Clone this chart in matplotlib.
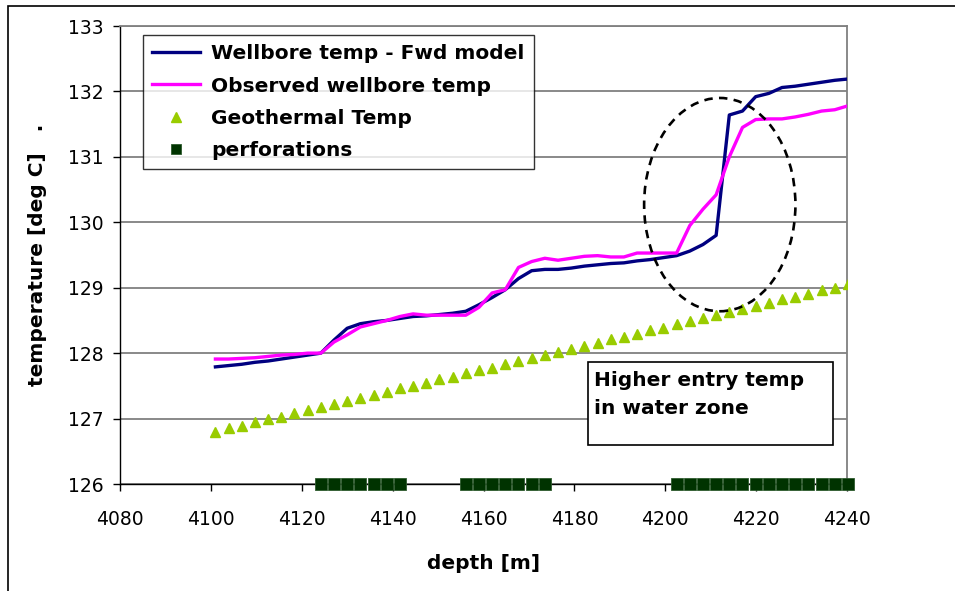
import matplotlib
matplotlib.use("Agg")
import matplotlib.pyplot as plt
from matplotlib.patches import Ellipse, Rectangle

plt.rcParams['font.family'] = ['DejaVu Sans']

# depth samples (m)
depth = [4101.0, 4103.9, 4106.8, 4109.7, 4112.6, 4115.5, 4118.4, 4121.3, 4124.2, 4127.1,
         4130.0, 4132.9, 4135.8, 4138.7, 4141.6, 4144.5, 4147.4, 4150.3, 4153.2, 4156.1,
         4159.0, 4161.9, 4164.8, 4167.7, 4170.6, 4173.5, 4176.4, 4179.3, 4182.2, 4185.1,
         4188.0, 4190.9, 4193.8, 4196.7, 4199.6, 4202.5, 4205.4, 4208.3, 4211.2, 4214.1,
         4217.0, 4219.9, 4222.8, 4225.7, 4228.6, 4231.5, 4234.4, 4237.3, 4240.2]

# forward model wellbore temperature
model_temp = [127.79, 127.81, 127.83, 127.86, 127.88, 127.91, 127.94, 127.97, 128.00, 128.20,
              128.38, 128.45, 128.48, 128.50, 128.53, 128.56, 128.57, 128.59, 128.61, 128.64,
              128.74, 128.85, 128.97, 129.14, 129.26, 129.28, 129.28, 129.30, 129.33, 129.35,
              129.37, 129.38, 129.41, 129.43, 129.46, 129.49, 129.56, 129.66, 129.80, 131.64,
              131.70, 131.92, 131.97, 132.06, 132.08, 132.11, 132.14, 132.17, 132.19]

# observed wellbore temperature
obs_temp = [127.91, 127.91, 127.92, 127.93, 127.95, 127.97, 127.98, 128.00, 128.00, 128.17,
            128.28, 128.40, 128.45, 128.50, 128.56, 128.60, 128.58, 128.58, 128.58, 128.58,
            128.70, 128.92, 128.97, 129.31, 129.40, 129.45, 129.42, 129.45, 129.48, 129.49,
            129.47, 129.47, 129.53, 129.53, 129.53, 129.53, 129.95, 130.20, 130.42, 131.00,
            131.45, 131.57, 131.58, 131.58, 131.61, 131.65, 131.70, 131.72, 131.78]

# geothermal gradient
geo_temp = [126.80, 126.85, 126.89, 126.94, 126.99, 127.03, 127.08, 127.13, 127.18, 127.22,
            127.27, 127.32, 127.36, 127.41, 127.46, 127.50, 127.55, 127.60, 127.64, 127.69,
            127.74, 127.78, 127.83, 127.88, 127.93, 127.97, 128.02, 128.07, 128.11, 128.16,
            128.21, 128.25, 128.30, 128.35, 128.39, 128.44, 128.49, 128.53, 128.58, 128.63,
            128.68, 128.72, 128.77, 128.82, 128.86, 128.91, 128.96, 129.00, 129.05]

# perforated intervals
perf_depth = [4124.2, 4127.1, 4130.0, 4132.9, 4135.8, 4138.7, 4141.6,
              4156.1, 4159.0, 4161.9, 4164.8, 4167.7, 4170.6, 4173.5,
              4202.5, 4205.4, 4208.3, 4211.2, 4214.1, 4217.0, 4219.9, 4222.8,
              4225.7, 4228.6, 4231.5, 4234.4, 4237.3, 4240.2]
perf_temp = [126.0] * len(perf_depth)

xticks = [4080, 4100, 4120, 4140, 4160, 4180, 4200, 4220, 4240]
yticks = [126, 127, 128, 129, 130, 131, 132, 133]

fig = plt.figure(figsize=(9.55, 5.91), dpi=100)
ax = fig.add_axes([120 / 955, 1 - 484 / 591, 727 / 955, 458 / 591])

ax.set_xlim(4080, 4240)
ax.set_ylim(126, 133)
ax.set_xticks(xticks)
ax.set_yticks(yticks)
ax.grid(axis='y', color='#808080', lw=1.3)
ax.set_axisbelow(True)

ax.plot(depth, model_temp, color='#000080', lw=2.4, label='Wellbore temp - Fwd model', zorder=4)
ax.plot(depth, obs_temp, color='#FF00FF', lw=2.4, label='Observed wellbore temp', zorder=5)
ax.plot(depth, geo_temp, ls='none', marker='^', ms=7.6, color='#99CC00', mec='#99CC00',
        label='Geothermal Temp', zorder=3)
ax.plot(perf_depth, perf_temp, ls='none', marker='s', ms=8.4, color='#003300', mec='#2d5a2d',
        mew=0.6, label='perforations', clip_on=False, zorder=6)

# dashed ring around the water entry zone
ax.add_patch(Ellipse((4212.0, 130.27), 33.3, 3.26, fill=False, ec='black', lw=1.9,
                     ls=(0, (3.2, 2.4)), zorder=7))

# annotation box
ax.add_patch(Rectangle((0.644, 0.085), 0.337, 0.181, transform=ax.transAxes,
                       fc='white', ec='black', lw=1.2, zorder=8))
ax.text(0.652, 0.247, 'Higher entry temp\nin water zone', transform=ax.transAxes,
        fontsize=14.5, fontweight='bold', va='top', ha='left', linespacing=1.6, zorder=9)

for s in ['top', 'right']:
    ax.spines[s].set_color('#808080')
    ax.spines[s].set_linewidth(1.3)
for s in ['left', 'bottom']:
    ax.spines[s].set_color('black')
    ax.spines[s].set_linewidth(1.0)
ax.tick_params(direction='out', length=5, width=1, labelsize=13.5)
ax.tick_params(axis='x', pad=14)
ax.tick_params(axis='y', pad=7)

ax.set_xlabel('depth [m]', fontsize=14.5, fontweight='bold', labelpad=18)
ax.set_ylabel('temperature [deg C]   .', fontsize=14.5, fontweight='bold', labelpad=15)

leg = ax.legend(loc='upper left', bbox_to_anchor=(0.0316, 0.98), borderaxespad=0,
                fancybox=False, frameon=True, edgecolor='black', handlelength=2.4,
                handletextpad=0.55, labelspacing=0.66, markerscale=0.9,
                prop={'weight': 'bold', 'size': 14.5}, borderpad=0.45)
leg.get_frame().set_linewidth(1.0)
leg.set_zorder(10)

# outer border around the whole chart
fig.add_artist(Rectangle((8 / 955, -0.05), 1.1, 1 - 6 / 591 + 0.05, transform=fig.transFigure,
                         fill=False, ec='black', lw=1.2))

fig.savefig('out.png', dpi=100)
